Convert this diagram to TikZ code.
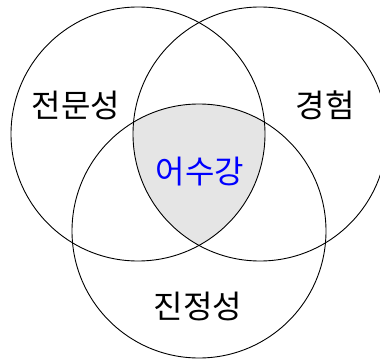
\documentclass[tikz,border=0pt]{standalone}
\usepackage{fontspec}
\newfontfamily\kr{Noto Sans CJK KR}
\begin{document}
\begin{tikzpicture}[x=1pt,y=-1pt,
  circ/.style={draw=black,line width=0.9pt},
  lbl/.style={font=\kr\fontsize{32}{34}\selectfont, inner sep=0pt, text=black}]
\useasboundingbox (0,0) rectangle (380,361);
\clip (0,0) rectangle (380,361);
\coordinate (c1) at (138,134);
\coordinate (c2) at (260,134);
\coordinate (c3) at (199,231);
\begin{scope}
  \clip (c1) circle (127);
  \clip (c2) circle (127);
  \fill[gray!20] (c3) circle (127);
\end{scope}
\draw[circ] (c1) circle (127);
\draw[circ] (c2) circle (127);
\draw[circ] (c3) circle (127);
\node[lbl] (expertise) at (76,105) {전문성};
\node[lbl] (experience) at (325,105) {경험};
\node[lbl] (sincerity) at (198,306) {진정성};
\node[lbl, text=blue] (center) at (200,172) {어수강};
\end{tikzpicture}
\end{document}
